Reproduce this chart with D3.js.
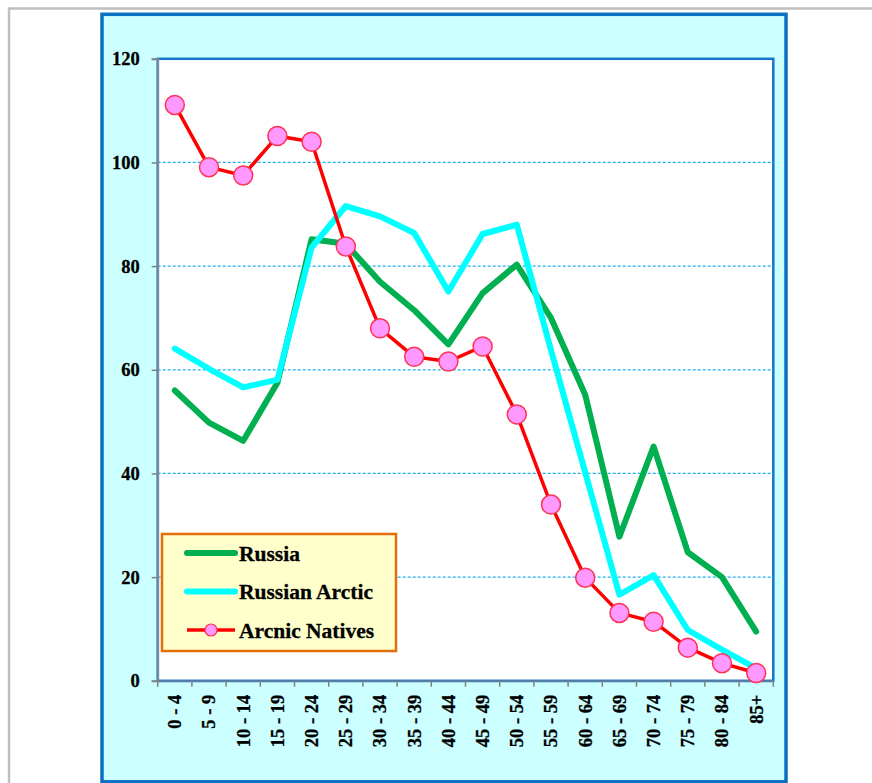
<!DOCTYPE html>
<html>
<head>
<meta charset="utf-8">
<script src="https://cdn.jsdelivr.net/npm/d3@7"></script>
<style>
  body { margin: 0; background: #ffffff; }
  text { font-family: "Liberation Serif", "Times New Roman", serif; font-weight: bold; fill: #000; }
</style>
</head>
<body>
<svg id="SvgChart"></svg>
<script>
// ------ Data
var ageGroups = ["0 - 4", "5 - 9", "10 - 14", "15 - 19", "20 - 24", "25 - 29", "30 - 34", "35 - 39", "40 - 44",
                 "45 - 49", "50 - 54", "55 - 59", "60 - 64", "65 - 69", "70 - 74", "75 - 79", "80 - 84", "85+"];
var russia       = [56, 49.8, 46.3, 57.5, 85.2, 84.3, 77, 71.5, 64.9, 74.8, 80.3, 70, 55.2, 27.8, 45.2, 24.8, 20, 9.5];
var russianArctic = [64.1, 60.2, 56.6, 58.1, 83.6, 91.6, 89.6, 86.4, 75.1, 86.2, 88, 63.8, 40.2, 16.6, 20.4, 9.8, 6, 2.4];
var arcticNatives = [111.1, 99.1, 97.5, 105.1, 104, 83.8, 68, 62.5, 61.6, 64.5, 51.4, 34, 19.9, 13.1, 11.4, 6.4, 3.4, 1.5];
var yTicks = [0, 20, 40, 60, 80, 100, 120];
var seriesNames = ["Russia", "Russian Arctic", "Arcnic Natives"];

// ------ Sizes
var width = 872, height = 783;
var plot = {left: 157.7, right: 773.3, top: 58.8, bottom: 680.8};

var svg = d3.select("#SvgChart")
    .attr("width", width)
    .attr("height", height);

// outer gray frame + blue chart frame
svg.append("rect")
    .attr("x", 9).attr("y", 8.5)
    .attr("width", 880).attr("height", 800)
    .style("fill", "#ffffff").style("stroke", "#bfbfbf").style("stroke-width", 2.5);

svg.append("rect")
    .attr("x", 102).attr("y", 14.3)
    .attr("width", 684).attr("height", 767.5)
    .style("fill", "#ccffff").style("stroke", "#0a70c2").style("stroke-width", 3.5);

// plot area
svg.append("rect")
    .attr("x", plot.left).attr("y", plot.top)
    .attr("width", plot.right - plot.left).attr("height", plot.bottom - plot.top)
    .style("fill", "#ffffff").style("stroke", "#1874c8").style("stroke-width", 2.5);

// ------ Scales
var xScale = d3.scaleBand().domain(ageGroups).range([plot.left, plot.right]);
var yScale = d3.scaleLinear().domain([0, 120]).range([plot.bottom, plot.top]);
var xMid = function(d, i) { return xScale(ageGroups[i]) + xScale.bandwidth() / 2; };

// gridlines
svg.append("g")
  .selectAll("line")
  .data(yTicks.filter(function(t) { return t > 0 && t < 120; }))
  .enter().append("line")
    .attr("x1", plot.left).attr("x2", plot.right)
    .attr("y1", d => yScale(d)).attr("y2", d => yScale(d))
    .style("stroke", "#1fb0ee").style("stroke-width", 1.2)
    .style("stroke-dasharray", "3,2");

// y axis
var yAxis = d3.axisLeft(yScale).tickValues(yTicks).tickSize(6).tickPadding(12);
var gy = svg.append("g")
    .attr("transform", "translate(" + plot.left + ",0)")
    .call(yAxis);
gy.select(".domain").style("stroke", "#7f8c99").style("stroke-width", 2);
gy.selectAll(".tick line").style("stroke", "#808080").style("stroke-width", 1.5);
gy.selectAll(".tick text")
    .style("font-size", "18.5px").style("font-family", "Liberation Serif").style("font-weight", "bold")
    .style("stroke", "#000").style("stroke-width", 0.3);

// x axis - ticks on the category boundaries
var xAxis = d3.axisBottom(xScale).tickSize(0).tickPadding(0);
var gx = svg.append("g")
    .attr("transform", "translate(0," + plot.bottom + ")")
    .call(xAxis);
gx.select(".domain").style("stroke", "#5b7fa6").style("stroke-width", 2);
gx.selectAll(".tick text")
    .attr("transform", "rotate(-90)")
    .attr("x", -14).attr("y", 0).attr("dy", "0.35em")
    .style("text-anchor", "end")
    .style("font-size", "18.5px").style("font-family", "Liberation Serif").style("font-weight", "bold")
    .style("stroke", "#000").style("stroke-width", 0.3);

svg.append("g")
  .selectAll("line")
  .data(d3.range(ageGroups.length + 1))
  .enter().append("line")
    .attr("x1", d => plot.left + d * xScale.step()).attr("x2", d => plot.left + d * xScale.step())
    .attr("y1", plot.bottom).attr("y2", plot.bottom + 6)
    .style("stroke", "#808080").style("stroke-width", 1.5);

// ------ Lines
var lineGen = d3.line()
    .x(xMid)
    .y(d => yScale(d));

svg.append("path").datum(russia)
    .attr("d", lineGen)
    .style("fill", "none").style("stroke", "#00b050").style("stroke-width", 6)
    .style("stroke-linejoin", "round").style("stroke-linecap", "round");

svg.append("path").datum(russianArctic)
    .attr("d", lineGen)
    .style("fill", "none").style("stroke", "#00ffff").style("stroke-width", 6)
    .style("stroke-linejoin", "round").style("stroke-linecap", "round");

svg.append("path").datum(arcticNatives)
    .attr("d", lineGen)
    .style("fill", "none").style("stroke", "#ff0000").style("stroke-width", 3.5)
    .style("stroke-linejoin", "round");

svg.append("g")
  .selectAll("circle")
  .data(arcticNatives)
  .enter().append("circle")
    .attr("cx", xMid)
    .attr("cy", d => yScale(d))
    .attr("r", 9.5)
    .style("fill", "#ff99ff").style("stroke", "#ff3355").style("stroke-width", 1.5);

// ------ Legend
var legend = svg.append("g").attr("transform", "translate(162,534)");
legend.append("rect")
    .attr("width", 234).attr("height", 117)
    .style("fill", "#ffffcc").style("stroke", "#e46c0a").style("stroke-width", 2.5);

var legendColors = ["#00b050", "#00ffff", "#ff0000"];
var legendWidths = [6, 6, 3.5];
var entries = legend.selectAll(".entry")
    .data(seriesNames)
  .enter().append("g")
    .attr("class", "entry")
    .attr("transform", (d, i) => "translate(0," + (19 + i * 38.5) + ")");

entries.append("line")
    .attr("x1", 25).attr("x2", 73)
    .style("stroke", (d, i) => legendColors[i])
    .style("stroke-width", (d, i) => legendWidths[i])
    .style("stroke-linecap", (d, i) => i < 2 ? "round" : "butt");

entries.filter((d, i) => i === 2).append("circle")
    .attr("cx", 49).attr("r", 6)
    .style("fill", "#ff99ff").style("stroke", "#ff3355").style("stroke-width", 1.2);

entries.append("text")
    .attr("x", 77).attr("dy", "0.35em")
    .style("font-size", "21.5px")
    .style("stroke", "#000").style("stroke-width", 0.3)
    .text(d => d);
</script>
</body>
</html>
